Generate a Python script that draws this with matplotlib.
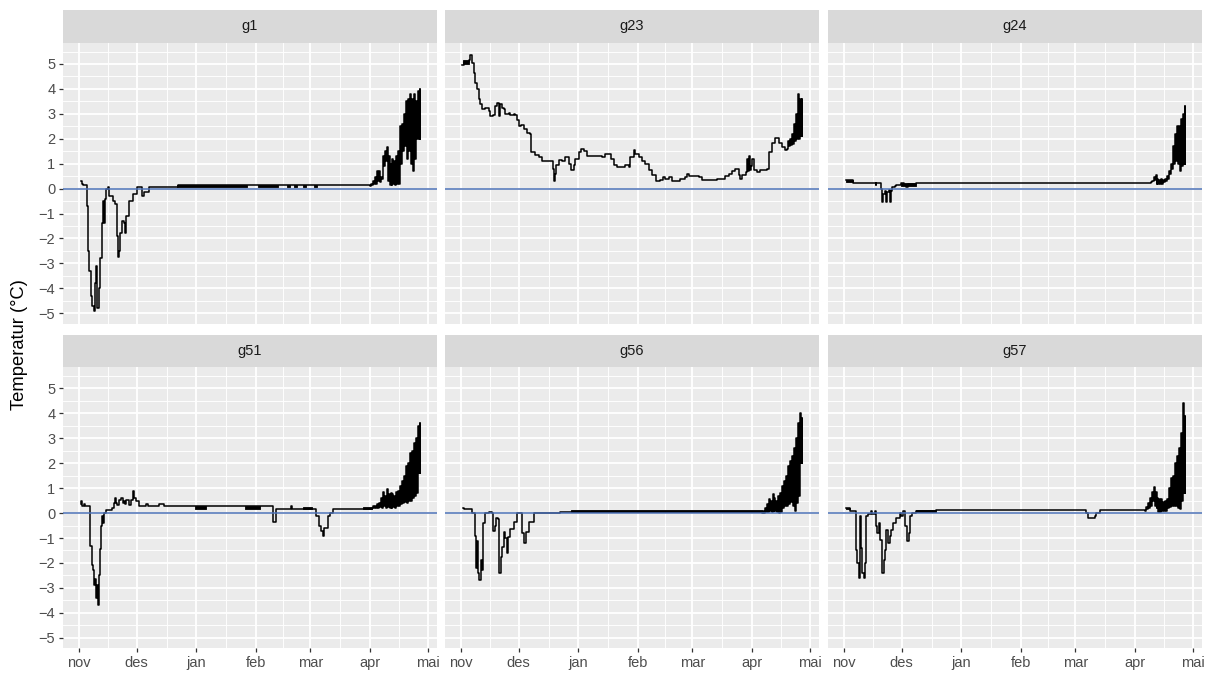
import pandas as pd
import matplotlib
matplotlib.use("Agg")
import matplotlib.pyplot as plt
import matplotlib.dates as mdates
from matplotlib.ticker import FixedLocator, FuncFormatter

plt.rcParams["font.family"] = ["Liberation Sans", "DejaVu Sans"]

# Logger series: days since 1 Nov 2018 and temperature (°C).
# Winter part as step breakpoints, the spring part as daily low/high pairs.
g1_day = [1.0, 1.5, 2.5, 4.1, 4.3, 4.7, 5.5, 6.4, 6.9, 8.1, 8.5, 9.0, 9.3, 9.9, 10.4,
          11.0, 11.9, 12.8, 13.1, 13.4, 14.2, 15.0, 15.9, 17.6, 18.8, 19.7, 20.2, 21.1,
          21.6, 22.5, 23.7, 24.2, 24.5, 26.3, 28.0, 30.1, 31.8, 32.8, 34.0, 36.3, 51.3]
g1_temp = [0.3, 0.2, 0.15, 0.15, -0.7, -2.5, -3.3, -4.3, -4.7, -4.9, -3.8, -3.1, -4.8,
           -4.8, -4.0, -2.8, -1.4, -0.5, -1.4, -0.4, 0.0, 0.05, -0.3, -0.5, -0.6, -1.9,
           -2.75, -2.5, -1.8, -1.3, -1.4, -1.8, -1.1, -0.5, -0.2, 0.05, 0.05, -0.3,
           -0.15, 0.05, 0.15]
g1_band = [(51, 87, 0.05, 0.15), (93, 103, 0.05, 0.15), (108, 109.5, 0.05, 0.15),
           (111.5, 113, 0.05, 0.15), (116, 117.5, 0.05, 0.15), (122, 123.5, 0.05, 0.15)]
g1_spring_first = 151
g1_spring_lo = [0.1, 0.15, 0.2, 0.2, 0.3, 0.25, 0.4, 0.9, 1.1, 0.3, 0.15, 0.15, 0.2,
                0.15, 0.2, 0.2, 1.0, 1.5, 1.7, 1.2, 1.5, 1.0, 0.7, 1.2, 2.0, 2.0]
g1_spring_hi = [0.2, 0.3, 0.45, 0.7, 0.7, 0.45, 1.3, 1.5, 1.65, 1.3, 1.0, 1.2, 1.1,
                1.3, 1.5, 2.5, 2.6, 3.0, 3.5, 3.6, 3.8, 3.6, 3.8, 3.5, 3.9, 4.0]

g23_day = [0.7, 1.5, 4.1, 5.0, 5.9, 6.7, 7.6, 8.5, 9.3, 10.2, 11.1, 12.8, 14.5, 15.4,
           16.6, 18.0, 18.8, 19.7, 20.2, 21.4, 22.3, 23.1, 24.9, 25.7, 27.4, 28.3, 29.2,
           30.0, 31.4, 32.6, 34.4, 36.1, 36.6, 38.7, 40.4, 42.1, 47.3, 47.8, 48.4, 48.9,
           49.4, 50.8, 52.5, 54.2, 56.0, 57.3, 58.5, 59.4, 61.1, 62.5, 63.7, 65.4, 73.2,
           74.6, 76.3, 77.6, 79.3, 81.0, 84.5, 85.3, 87.1, 87.9, 89.6, 90.5, 92.2, 94.0,
           95.7, 97.4, 99.1, 101.2, 103.4, 104.6, 106.0, 107.8, 109.5, 113.8, 116.4,
           117.3, 118.1, 123.3, 125.0, 131.1, 132.8, 136.3, 137.1, 138.9, 140.6, 142.3,
           144.1, 144.9, 145.8, 147.5, 148.4, 148.8, 149.2, 149.6, 150.1, 150.9, 151.8,
           153.5, 155.2, 157.0, 158.7, 159.6, 161.3, 162.7, 164.8, 166.5, 168.2]
g23_temp = [4.95, 5.1, 5.15, 5.35, 5.05, 4.65, 4.25, 4.0, 3.6, 3.4, 3.2, 3.25, 3.1, 2.9,
            2.95, 3.3, 3.45, 2.9, 3.4, 3.25, 3.2, 3.0, 3.05, 2.95, 3.0, 2.95, 2.75, 2.5,
            2.55, 2.4, 2.25, 2.2, 1.45, 1.35, 1.25, 1.1, 1.1, 0.8, 0.3, 0.6, 0.95, 1.15,
            1.1, 1.25, 1.0, 0.75, 0.95, 1.2, 1.45, 1.6, 1.5, 1.3, 1.25, 1.4, 1.4, 1.2,
            0.95, 0.85, 0.85, 0.95, 0.85, 1.25, 1.55, 1.4, 1.25, 1.1, 1.0, 0.75, 0.55,
            0.3, 0.35, 0.45, 0.4, 0.45, 0.3, 0.4, 0.45, 0.6, 0.5, 0.45, 0.35, 0.35, 0.4,
            0.4, 0.5, 0.6, 0.7, 0.8, 0.55, 0.4, 0.55, 0.65, 1.2, 0.7, 1.3, 0.75, 0.9,
            1.2, 0.75, 0.65, 0.75, 0.75, 0.8, 1.45, 1.85, 2.05, 1.85, 1.65, 1.55]
g23_band = [(1.0, 4.1, 5.0, 5.15)]
g23_spring_first = 169
g23_spring_lo = [1.6, 1.7, 1.75, 1.8, 1.9, 2.0, 2.0, 2.1]
g23_spring_hi = [1.9, 2.0, 2.2, 2.6, 3.0, 3.8, 3.6, 3.6]

g24_day = [1.4, 4.8, 16.6, 16.9, 19.5, 20.0, 20.6, 21.2, 22.1, 22.6, 23.3, 23.8, 24.4,
           25.2, 26.4, 27.3, 29.9, 31.0, 32.5, 33.3, 36.8, 37.7]
g24_temp = [0.33, 0.24, 0.13, 0.24, 0.0, -0.55, -0.2, -0.1, -0.55, -0.15, -0.05, -0.55,
            -0.1, 0.05, 0.1, 0.15, 0.24, 0.15, 0.07, 0.17, 0.2, 0.24]
g24_band = [(1.4, 4.8, 0.27, 0.35), (29.9, 37.7, 0.12, 0.24)]
g24_spring_first = 159
g24_spring_lo = [0.25, 0.3, 0.35, 0.2, 0.2, 0.2, 0.2, 0.25, 0.3, 0.4, 0.6, 0.8, 1.0,
                 1.1, 1.0, 0.7, 0.9, 1.0]
g24_spring_hi = [0.3, 0.45, 0.55, 0.4, 0.35, 0.4, 0.35, 0.4, 0.5, 0.7, 1.0, 1.7, 2.2,
                 2.5, 2.5, 2.8, 3.0, 3.3]

g51_day = [1.2, 1.4, 1.7, 3.0, 3.5, 5.7, 5.9, 6.9, 7.2, 7.7, 8.4, 9.0, 9.5, 10.0, 10.4,
           10.7, 11.1, 11.6, 12.1, 12.6, 12.9, 13.3, 14.2, 17.3, 18.2, 18.9, 19.3, 19.7,
           21.1, 22.0, 22.8, 23.5, 24.0, 24.5, 25.9, 27.1, 28.0, 28.6, 29.7, 31.1, 34.9,
           35.8, 41.8, 44.4, 100.7, 101.3, 102.4, 110.0, 110.5, 122.3, 123.1, 124.5,
           125.4, 126.3, 127.1, 128.3, 129.2, 130.1, 131.8]
g51_temp = [0.35, 0.48, 0.3, 0.35, 0.28, 0.28, -1.3, -2.1, -2.3, -2.9, -2.65, -3.4,
            -2.9, -3.7, -3.3, -2.5, -1.45, -0.5, -0.1, -0.4, -0.05, 0.0, 0.13, 0.2, 0.4,
            0.6, 0.4, 0.33, 0.53, 0.6, 0.4, 0.5, 0.35, 0.53, 0.33, 0.53, 0.87, 0.6, 0.5,
            0.27, 0.36, 0.27, 0.36, 0.27, -0.37, -0.37, 0.16, 0.29, 0.16, 0.16, -0.1,
            -0.5, -0.73, -0.93, -0.6, -0.6, -0.1, 0.0, 0.16]
g51_band = [(60, 66, 0.16, 0.29), (86, 94, 0.16, 0.29), (116, 121, 0.16, 0.24),
            (147, 152, 0.16, 0.24)]
g51_spring_first = 152
g51_spring_lo = [0.2, 0.2, 0.2, 0.2, 0.25, 0.2, 0.3, 0.2, 0.25, 0.2, 0.2, 0.25, 0.2,
                 0.3, 0.3, 0.35, 0.4, 0.45, 0.4, 0.5, 0.5, 0.6, 0.7, 0.8, 1.6]
g51_spring_hi = [0.3, 0.3, 0.35, 0.4, 0.6, 0.85, 0.7, 0.95, 0.75, 0.8, 0.75, 0.7, 0.85,
                 0.9, 1.1, 1.3, 1.5, 1.9, 2.0, 2.4, 2.5, 2.8, 3.0, 3.5, 3.6]

g56_day = [1.0, 1.7, 5.9, 7.6, 7.9, 8.5, 9.0, 9.7, 10.4, 11.1, 11.6, 12.4, 14.5, 16.2,
           16.8, 17.6, 18.3, 19.2, 20.0, 20.7, 21.4, 22.3, 23.1, 24.0, 24.5, 25.7, 27.5,
           29.2, 30.9, 31.8, 32.6, 33.9, 35.2, 37.8, 51.6]
g56_temp = [0.2, 0.15, 0.0, -0.9, -2.2, -1.1, -2.4, -2.67, -1.9, -2.3, -0.4, 0.0, 0.03,
            0.0, -0.73, -0.53, -0.2, -0.25, -2.4, -1.75, -1.35, -0.75, -1.0, -1.6, -0.95,
            -0.65, -0.35, 0.0, 0.0, -0.8, -1.2, -0.75, -0.35, 0.0, 0.05]
g56_band = [(57, 156, 0.03, 0.13)]
g56_spring_first = 156
g56_spring_lo = [0.0, 0.0, 0.05, 0.05, 0.1, 0.05, 0.1, 0.1, 0.05, 0.0, 0.05, 0.2, 0.3,
                 0.3, 0.35, 0.45, 0.3, 0.1, 0.4, 0.7, 2.0]
g56_spring_hi = [0.1, 0.2, 0.35, 0.55, 0.5, 0.75, 0.6, 0.5, 0.7, 0.8, 1.1, 1.3, 1.5,
                 1.9, 2.1, 2.3, 2.6, 3.0, 3.6, 4.0, 3.8]

g57_day = [1.4, 3.1, 6.2, 6.6, 7.1, 8.0, 8.6, 9.2, 9.7, 10.4, 10.9, 11.4, 11.7, 12.6,
           14.3, 14.9, 16.1, 16.9, 17.4, 18.1, 19.0, 20.0, 20.7, 21.2, 22.1, 23.0, 23.8,
           24.7, 25.6, 27.3, 29.0, 29.9, 30.7, 31.6, 32.8, 33.9, 34.6, 35.6, 37.7, 48.0,
           125.7, 126.5, 129.2, 130.0, 130.9, 132.6]
g57_temp = [0.19, 0.09, 0.09, -1.5, -2.0, -2.6, -0.1, -1.4, -2.4, -2.6, -2.0, -1.5,
            -0.1, -0.03, 0.09, -0.03, 0.09, -0.53, -0.8, -0.4, -1.07, -2.4, -1.87, -1.47,
            -0.67, -1.2, -0.93, -0.67, -0.4, -0.2, 0.0, -0.1, 0.09, -0.53, -1.13, -0.8,
            -0.1, 0.0, 0.09, 0.13, 0.0, -0.2, -0.2, -0.1, 0.0, 0.13]
g57_band = [(1.4, 3.1, 0.15, 0.21), (37.7, 48.0, 0.05, 0.13)]
g57_spring_first = 156
g57_spring_lo = [0.1, 0.15, 0.2, 0.3, 0.5, 0.3, 0.2, 0.05, 0.05, 0.1, 0.1, 0.1, 0.2,
                 0.25, 0.3, 0.3, 0.3, 0.2, 0.15, 0.5, 0.8]
g57_spring_hi = [0.25, 0.4, 0.6, 0.85, 1.05, 0.85, 0.6, 0.55, 0.55, 0.45, 0.5, 0.55,
                 1.0, 1.4, 1.5, 2.0, 2.3, 2.6, 3.2, 4.4, 3.9]

stations = ["g1", "g23", "g24", "g51", "g56", "g57"]
series = {
    "g1": (g1_day, g1_temp, g1_band, g1_spring_first, g1_spring_lo, g1_spring_hi),
    "g23": (g23_day, g23_temp, g23_band, g23_spring_first, g23_spring_lo, g23_spring_hi),
    "g24": (g24_day, g24_temp, g24_band, g24_spring_first, g24_spring_lo, g24_spring_hi),
    "g51": (g51_day, g51_temp, g51_band, g51_spring_first, g51_spring_lo, g51_spring_hi),
    "g56": (g56_day, g56_temp, g56_band, g56_spring_first, g56_spring_lo, g56_spring_hi),
    "g57": (g57_day, g57_temp, g57_band, g57_spring_first, g57_spring_lo, g57_spring_hi),
}

month_names = {11: "nov", 12: "des", 1: "jan", 2: "feb", 3: "mar", 4: "apr", 5: "mai"}
start = mdates.date2num(pd.Timestamp("2018-11-01"))
month_starts = [mdates.date2num(d) for d in pd.date_range("2018-11-01", "2019-05-01", freq="MS")]
month_mids = [(a + b) / 2 for a, b in zip(month_starts[:-1], month_starts[1:])]


def build_trace(day, temp, first, lo, hi):
    d = list(day)
    t = list(temp)
    for i, (a, b) in enumerate(zip(lo, hi)):
        d += [first + i, first + i + 0.5]
        t += [a, b]
    d.append(first + len(lo) - 0.25)
    t.append(lo[-1])
    return [start + x for x in d], t


traces = {s: build_trace(v[0], v[1], v[3], v[4], v[5]) for s, v in series.items()}

# shared scales, 5 % padding like ggplot
all_x = [x for s in stations for x in traces[s][0]]
all_y = [y for s in stations for y in traces[s][1]]
xpad = (max(all_x) - min(all_x)) * 0.05
ypad = (max(all_y) - min(all_y)) * 0.05
xlim = (min(all_x) - xpad, max(all_x) + xpad)
ylim = (min(all_y) - ypad, max(all_y) + ypad)

W, H = 1205, 675
fig = plt.figure(figsize=(W / 100, H / 100), dpi=100, facecolor="white")

col_left = [63, 445, 828]
panel_w = 374
row_strip_top = [10, 334.5]
strip_h = 32.5
panel_h = 281

for k, name in enumerate(stations):
    r, c = divmod(k, 3)
    x0 = col_left[c]
    top = row_strip_top[r]
    sax = fig.add_axes([x0 / W, 1 - (top + strip_h) / H, panel_w / W, strip_h / H])
    sax.set_facecolor("#D9D9D9")
    sax.set_xticks([])
    sax.set_yticks([])
    for sp in sax.spines.values():
        sp.set_visible(False)
    sax.text(0.5, 0.5, name, ha="center", va="center", fontsize=10.5, color="#1A1A1A",
             transform=sax.transAxes)

    ax = fig.add_axes([x0 / W, 1 - (top + strip_h + panel_h) / H, panel_w / W, panel_h / H])
    ax.set_facecolor("#EBEBEB")
    for sp in ax.spines.values():
        sp.set_visible(False)
    ax.set_axisbelow(True)

    xs, ys = traces[name]
    ax.plot(xs, ys, color="black", lw=1.1, drawstyle="steps-post", zorder=2)
    for b0, b1, lo, hi in series[name][2]:
        ax.fill_between([start + b0, start + b1], [lo, lo], [hi, hi], color="black",
                        lw=0.6, zorder=2)
    ax.axhline(0, color="#4A6FB5", lw=1.1, zorder=3)

    ax.set_xlim(xlim)
    ax.set_ylim(ylim)
    ax.xaxis.set_major_locator(FixedLocator(month_starts))
    ax.xaxis.set_minor_locator(FixedLocator(month_mids))
    ax.xaxis.set_major_formatter(
        FuncFormatter(lambda v, p: month_names[mdates.num2date(v).month]))
    ax.yaxis.set_major_locator(FixedLocator(list(range(-5, 6))))
    ax.yaxis.set_minor_locator(FixedLocator([v + 0.5 for v in range(-6, 6)]))
    ax.grid(which="major", color="white", lw=1.3)
    ax.grid(which="minor", color="white", lw=0.65)
    ax.tick_params(which="minor", length=0)
    ax.tick_params(which="major", length=3, width=0.9, color="#333333",
                   labelsize=10.5, labelcolor="#4D4D4D", pad=2.5)
    if r == 0:
        ax.tick_params(axis="x", which="major", length=0, labelbottom=False)
    if c != 0:
        ax.tick_params(axis="y", which="major", length=0, labelleft=False)

fig.text(20 / W, 1 - 345 / H, "Temperatur (°C)", rotation=90, ha="center", va="center",
         fontsize=13.2, color="black")

fig.savefig("out.png", dpi=100, facecolor="white")
